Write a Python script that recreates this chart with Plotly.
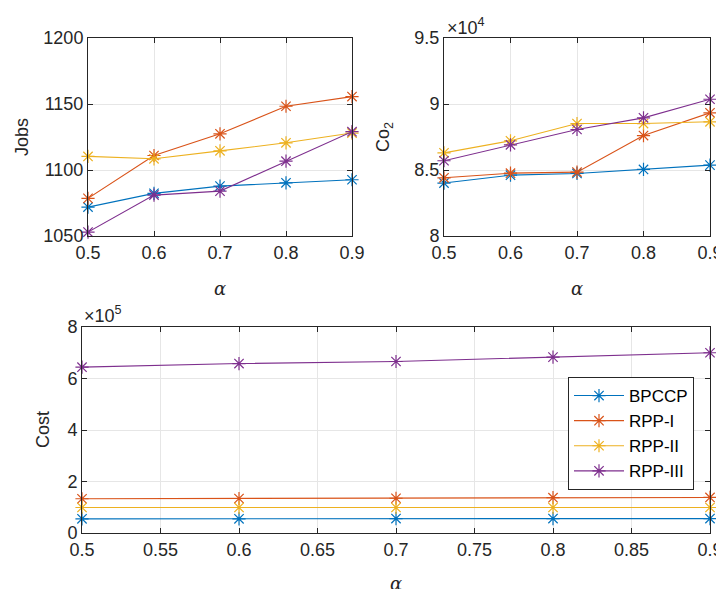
import plotly.graph_objects as go

alpha_top = [0.5, 0.6, 0.7, 0.8, 0.9]
series_names = ["BPCCP", "RPP-I", "RPP-II", "RPP-III"]
colors = ["#0072BD", "#D95319", "#EDB120", "#7E2F8E"]

jobs_bpccp = [1071.9, 1082.3, 1087.8, 1090.3, 1092.6]
jobs_rpp1 = [1078.5, 1111.0, 1127.4, 1148.3, 1155.6]
jobs_rpp2 = [1110.3, 1108.5, 1114.5, 1120.6, 1128.0]
jobs_rpp3 = [1053.0, 1081.0, 1084.0, 1106.7, 1129.0]

co2_bpccp = [84010, 84610, 84740, 85040, 85370]
co2_rpp1 = [84410, 84760, 84840, 87610, 89330]
co2_rpp2 = [86300, 87210, 88520, 88520, 88650]
co2_rpp3 = [85700, 86910, 88070, 88950, 90360]

cost_bpccp = [55000, 55000, 56000, 56000, 56000]
cost_rpp1 = [133000, 134000, 135000, 137000, 138000]
cost_rpp2 = [99000, 99000, 99000, 99000, 99000]
cost_rpp3 = [644000, 658000, 666000, 683000, 700000]

jobs_ticks = [1050, 1100, 1150, 1200]
co2_ticks = [80000, 85000, 90000, 95000]
co2_ticktext = ["8", "8.5", "9", "9.5"]
cost_ticks = [0, 200000, 400000, 600000, 800000]
cost_ticktext = ["0", "2", "4", "6", "8"]
x_top_ticks = [0.5, 0.6, 0.7, 0.8, 0.9]
x_top_text = ["0.5", "0.6", "0.7", "0.8", "0.9"]
x_bot_ticks = [0.5, 0.55, 0.6, 0.65, 0.7, 0.75, 0.8, 0.85, 0.9]
x_bot_text = ["0.5", "0.55", "0.6", "0.65", "0.7", "0.75", "0.8", "0.85", "0.9"]

jobs = [jobs_bpccp, jobs_rpp1, jobs_rpp2, jobs_rpp3]
co2 = [co2_bpccp, co2_rpp1, co2_rpp2, co2_rpp3]
cost = [cost_bpccp, cost_rpp1, cost_rpp2, cost_rpp3]

W, H = 724, 589
OX, OY = 8, 8  # page body margin offset
FONT = "Liberation Sans, Arial, Helvetica, sans-serif"
TXT = "#262626"

fig = go.Figure()

def add(ys, xa, ya, show):
    for name, c, y in zip(series_names, colors, ys):
        fig.add_trace(go.Scatter(
            x=alpha_top, y=y, name=name, mode="lines+markers",
            xaxis=xa, yaxis=ya, showlegend=show, cliponaxis=False,
            line=dict(color=c, width=1.1),
            marker=dict(symbol="asterisk-open", size=11, color=c,
                        line=dict(color=c, width=1.2)),
        ))

add(jobs, "x", "y", False)
add(co2, "x2", "y2", False)
add(cost, "x3", "y3", True)

def fx(a):
    return (a - OX) / W

def fy(b):
    return 1 - (b - OY) / H

def px_x(a, b):
    return [fx(a), fx(b)]

def px_y(top, bottom):
    return [fy(bottom), fy(top)]

common = dict(
    showline=True, linecolor=TXT, linewidth=1, mirror="allticks",
    ticks="inside", ticklen=5, tickcolor=TXT, automargin=False,
    showgrid=True, gridcolor="#e6e6e6", gridwidth=1,
    zeroline=False, tickfont=dict(family=FONT, size=18, color=TXT),
)

fig.update_layout(
    template="none",
    width=W, height=H,
    margin=dict(l=0, r=0, t=0, b=0, autoexpand=False),
    paper_bgcolor="white", plot_bgcolor="white",
    font=dict(family=FONT, color=TXT),
    xaxis=dict(domain=px_x(88, 352), anchor="y", range=[0.5, 0.9],
               tickvals=x_top_ticks, ticktext=x_top_text, **common),
    yaxis=dict(domain=px_y(38, 236), anchor="x", range=[1050, 1200],
               tickvals=jobs_ticks, **common),
    xaxis2=dict(domain=px_x(444, 710), anchor="y2", range=[0.5, 0.9],
                tickvals=x_top_ticks, ticktext=x_top_text, **common),
    yaxis2=dict(domain=px_y(38, 236), anchor="x2", range=[80000, 95000],
                tickvals=co2_ticks, ticktext=co2_ticktext, **common),
    xaxis3=dict(domain=px_x(82, 710), anchor="y3", range=[0.5, 0.9],
                tickvals=x_bot_ticks, ticktext=x_bot_text, **common),
    yaxis3=dict(domain=px_y(327, 533), anchor="x3", range=[0, 800000],
                tickvals=cost_ticks, ticktext=cost_ticktext, **common),
    legend=dict(x=fx(694), y=fy(377), xanchor="right", yanchor="top",
                bgcolor="white", bordercolor=TXT, borderwidth=1,
                font=dict(family=FONT, size=17, color="black"),
                tracegroupgap=0, itemwidth=50),
)

def ann(text, x, y, size=18, angle=0, xanchor="center", yanchor="middle", family=FONT):
    fig.add_annotation(text=text, x=fx(x), y=fy(y), xref="paper", yref="paper",
                       showarrow=False, textangle=angle, xanchor=xanchor, yanchor=yanchor,
                       font=dict(family=family, size=size, color=TXT))

# axis labels
ann("Jobs", 22, 137, angle=-90)
ann("Co<sub>2</sub>", 385, 137, angle=-90)
ann("Cost", 43, 430, angle=-90)
ann("<i>α</i>", 220, 289, family="DejaVu Serif, serif")
ann("<i>α</i>", 577, 289, family="DejaVu Serif, serif")
ann("<i>α</i>", 396, 583, family="DejaVu Serif, serif")
# exponent labels
ann("×10<sup>4</sup>", 445, 27, size=18, xanchor="left")
ann("×10<sup>5</sup>", 82, 314, size=18, xanchor="left")

fig.write_html("out.html")
